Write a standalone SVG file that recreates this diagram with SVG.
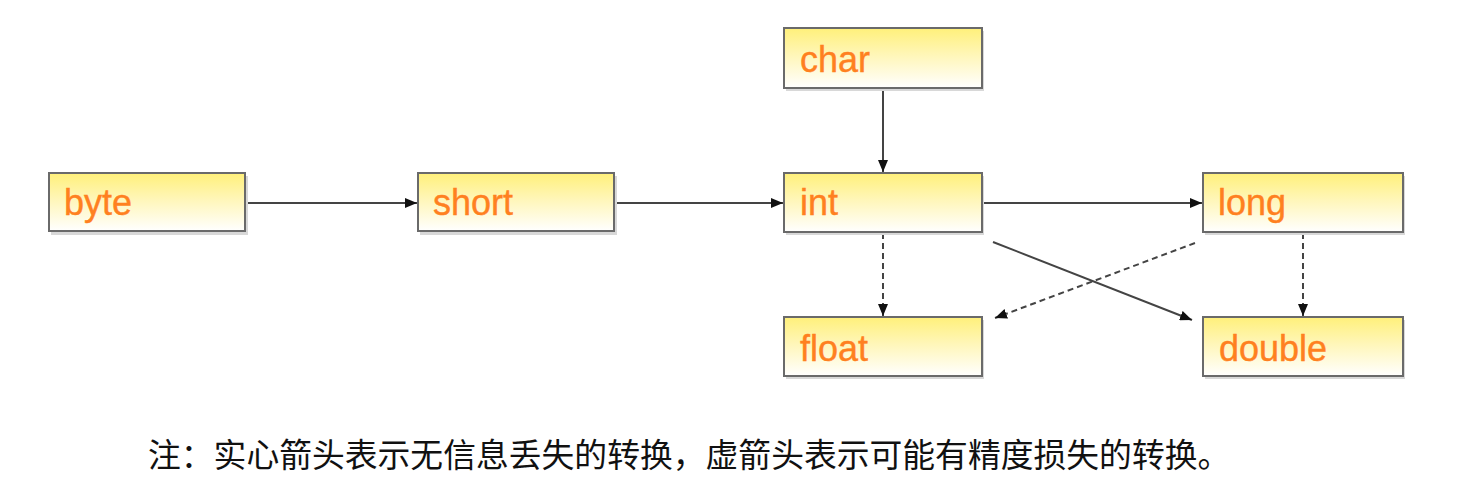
<svg xmlns="http://www.w3.org/2000/svg" width="1471" height="503" viewBox="0 0 1471 503">
<style>
.box{fill:url(#g);stroke:#6a6a6a;stroke-width:2}
.shadow{fill:#d8d8d8}
.lbl{font-family:"Liberation Sans",Arial,sans-serif;font-size:36px;fill:#ff8020;stroke:#ff8020;stroke-width:0.4}
.c{stroke:#444;stroke-width:2;fill:none}
.d{stroke-dasharray:6,4}
.note{font-family:"Noto Sans CJK SC",sans-serif;font-size:32.8px;fill:#111}
</style>
<defs>
<linearGradient id="g" x1="0" y1="0" x2="0" y2="1">
<stop offset="0" stop-color="#fff07a"/>
<stop offset="0.45" stop-color="#fff6b8"/>
<stop offset="1" stop-color="#ffffff"/>
</linearGradient>
<marker id="a" markerWidth="12" markerHeight="10" refX="12" refY="5" orient="auto" markerUnits="userSpaceOnUse">
<path d="M0,0 L12,5 L0,10 Z" fill="#111"/>
</marker>
</defs>
<rect width="1471" height="503" fill="#fff"/>
<g id="connectors">
<line class="c" x1="246" y1="203" x2="417" y2="203" marker-end="url(#a)"/>
<line class="c" x1="615" y1="203" x2="783" y2="203" marker-end="url(#a)"/>
<line class="c" x1="883" y1="89" x2="883" y2="172" marker-end="url(#a)"/>
<line class="c" x1="983" y1="203" x2="1202" y2="203" marker-end="url(#a)"/>
<line class="c d" x1="883" y1="233" x2="883" y2="316" marker-end="url(#a)"/>
<line class="c d" x1="1303" y1="233" x2="1303" y2="316" marker-end="url(#a)"/>
<line class="c" x1="993" y1="242" x2="1192" y2="320" marker-end="url(#a)"/>
<line class="c d" x1="1195" y1="243" x2="995" y2="318" marker-end="url(#a)"/>
</g>
<g id="byte"><rect class="shadow" x="51" y="176" width="197" height="59"/><rect class="box" x="49" y="173" width="196" height="58"/><text class="lbl" x="64" y="215">byte</text></g>
<g id="short"><rect class="shadow" x="420" y="176" width="197" height="59"/><rect class="box" x="418" y="173" width="196" height="58"/><text class="lbl" x="433" y="215">short</text></g>
<g id="char"><rect class="shadow" x="786" y="31" width="198" height="60"/><rect class="box" x="784" y="28" width="198" height="60"/><text class="lbl" x="800" y="72">char</text></g>
<g id="int"><rect class="shadow" x="786" y="176" width="198" height="59"/><rect class="box" x="784" y="173" width="198" height="59"/><text class="lbl" x="800" y="215">int</text></g>
<g id="long"><rect class="shadow" x="1205" y="176" width="200" height="59"/><rect class="box" x="1203" y="173" width="200" height="59"/><text class="lbl" x="1218" y="215">long</text></g>
<g id="float"><rect class="shadow" x="786" y="320" width="198" height="59"/><rect class="box" x="784" y="317" width="198" height="59"/><text class="lbl" x="800" y="361">float</text></g>
<g id="double"><rect class="shadow" x="1205" y="320" width="200" height="59"/><rect class="box" x="1203" y="317" width="200" height="59"/><text class="lbl" x="1219" y="361">double</text></g>
<text class="note" x="148" y="467">注：实心箭头表示无信息丢失的转换，虚箭头表示可能有精度损失的转换。</text>
</svg>
